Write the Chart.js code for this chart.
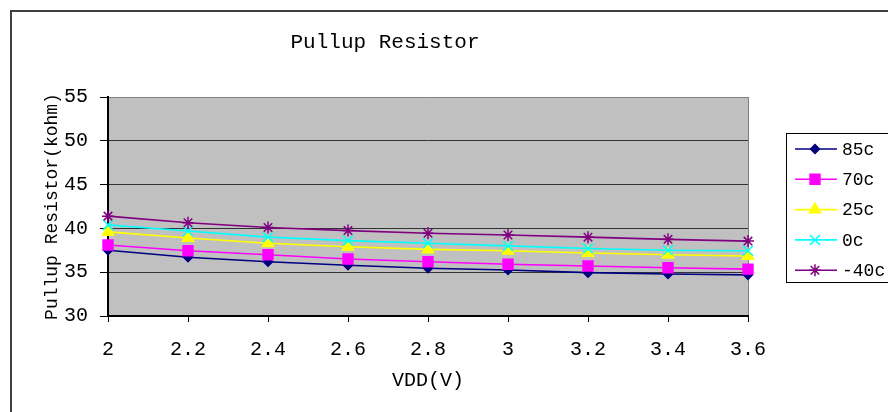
<!DOCTYPE html>
<html>
<head>
<meta charset="utf-8">
<script src="https://cdn.jsdelivr.net/npm/chart.js"></script>
<style>
  html, body { margin: 0; padding: 0; background: #fff; }
  #wrap { width: 888px; height: 412px; }
</style>
</head>
<body>
<div id="wrap"><canvas id="pullup" width="888" height="412"></canvas></div>
<script>
// values
var vdd = ['2', '2.2', '2.4', '2.6', '2.8', '3', '3.2', '3.4', '3.6'];
var t85 = [37.5, 36.7, 36.2, 35.8, 35.45, 35.25, 34.95, 34.8, 34.7];
var t70 = [38.1, 37.45, 37.0, 36.5, 36.2, 35.9, 35.7, 35.5, 35.35];
var t25 = [39.6, 38.9, 38.3, 37.9, 37.6, 37.45, 37.2, 37.0, 36.85];
var t0 = [40.4, 39.7, 39.0, 38.6, 38.3, 38.0, 37.7, 37.5, 37.45];
var tm40 = [41.4, 40.65, 40.1, 39.75, 39.45, 39.25, 39.0, 38.75, 38.55];
var yTicks = [30, 35, 40, 45, 50, 55];

var mono = "'Liberation Mono', 'DejaVu Sans Mono', monospace";

function serie(label, data, color, style, radius, order) {
  return {
    label: label,
    data: data,
    borderColor: color,
    backgroundColor: color,
    pointBackgroundColor: color,
    pointBorderColor: color,
    pointStyle: style,
    pointRadius: radius,
    pointHoverRadius: radius,
    pointBorderWidth: 1.5,
    borderWidth: 1.6,
    tension: 0,
    clip: false,
    order: order
  };
}

// grey plot background, outer frame, title and boxed legend
var extras = {
  id: 'extras',
  beforeDraw: function (chart) {
    var c = chart.ctx, a = chart.chartArea;
    c.save();
    c.fillStyle = '#c0c0c0';
    c.fillRect(a.left, a.top, a.right - a.left, a.bottom - a.top);
    c.strokeStyle = '#404040';
    c.lineWidth = 2;
    c.beginPath();
    c.moveTo(11, 420);
    c.lineTo(11, 11);
    c.lineTo(900, 11);
    c.stroke();
    c.restore();
  },
  afterDraw: function (chart) {
    var c = chart.ctx;
    c.save();
    c.fillStyle = '#000';
    c.font = '21px ' + mono;
    c.textAlign = 'center';
    c.textBaseline = 'middle';
    c.fillText('Pullup Resistor', 385, 42);

    // legend box
    c.strokeStyle = '#000';
    c.lineWidth = 1;
    c.strokeRect(786.5, 133.5, 120, 149);
    c.font = '18px ' + mono;
    c.textAlign = 'left';
    chart.data.datasets.forEach(function (ds, i) {
      var y = 149 + i * 30.3;
      c.strokeStyle = ds.borderColor;
      c.fillStyle = ds.borderColor;
      c.lineWidth = 1.6;
      c.beginPath();
      c.moveTo(795, y);
      c.lineTo(837, y);
      c.stroke();
      c.lineWidth = ds.pointBorderWidth;
      Chart.helpers.drawPoint(c, {
        pointStyle: ds.pointStyle,
        radius: ds.pointRadius,
        rotation: 0,
        borderWidth: ds.pointBorderWidth
      }, 815, y);
      c.fillStyle = '#000';
      c.fillText(ds.label, 842, y + 1);
    });
    c.restore();
  }
};

new Chart(document.getElementById('pullup'), {
  type: 'line',
  data: {
    labels: vdd,
    datasets: [
      serie('85c', t85, '#000080', 'rectRot', 4.5, 5),
      serie('70c', t70, '#ff00ff', 'rect', 7, 4),
      serie('25c', t25, '#ffff00', 'triangle', 6.5, 3),
      serie('0c', t0, '#00ffff', 'crossRot', 7, 2),
      serie('-40c', tm40, '#800080', 'star', 6, 1)
    ]
  },
  options: {
    responsive: false,
    animation: false,
    layout: { padding: { left: 0, right: 140, top: 97, bottom: 0 } },
    plugins: {
      legend: { display: false },
      title: { display: false },
      tooltip: { enabled: false }
    },
    scales: {
      x: {
        offset: false,
        afterFit: function (s) { s.height = 96; },
        border: { color: '#000', width: 2 },
        grid: {
          color: function (ctx) { return ctx.index === vdd.length - 1 ? '#808080' : 'rgba(0,0,0,0)'; },
          tickColor: '#000',
          tickLength: 6,
          drawOnChartArea: true
        },
        ticks: {
          color: '#000',
          padding: 16,
          maxRotation: 0,
          autoSkip: false,
          font: { family: mono, size: 20 }
        },
        title: {
          display: true,
          text: 'VDD(V)',
          color: '#000',
          font: { family: mono, size: 20 },
          padding: { top: 0, bottom: 19 }
        }
      },
      y: {
        min: yTicks[0],
        max: yTicks[yTicks.length - 1],
        afterFit: function (s) { s.width = 108; },
        afterBuildTicks: function (s) { s.ticks = yTicks.map(function (v) { return { value: v }; }); },
        border: { color: '#000', width: 2 },
        grid: {
          color: function (ctx) {
            if (ctx.tick.value === 55) return '#808080';
            return '#333';
          },
          tickColor: '#000',
          tickLength: 8,
          lineWidth: 1
        },
        ticks: {
          color: '#000',
          padding: 12,
          font: { family: mono, size: 20 }
        },
        title: {
          display: true,
          text: 'Pullup Resistor(kohm)',
          color: '#000',
          font: { family: mono, size: 18 },
          padding: { top: 41, bottom: 0 }
        }
      }
    }
  },
  plugins: [extras]
});
</script>
</body>
</html>
